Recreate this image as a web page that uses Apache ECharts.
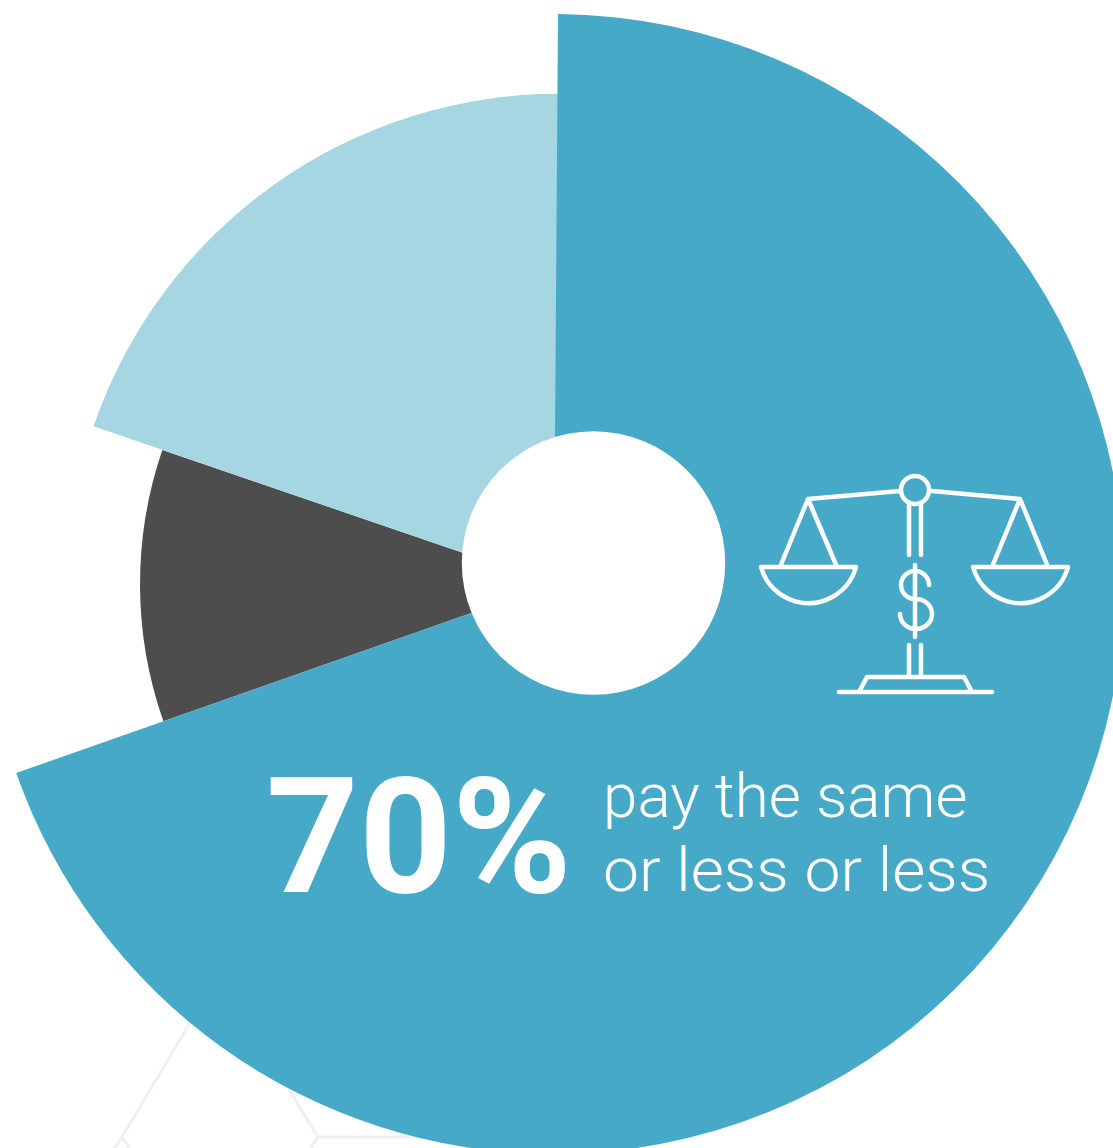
<!DOCTYPE html>
<html>
<head>
<meta charset="utf-8">
<style>
html,body{margin:0;padding:0;background:#fff}
#chart{width:1113px;height:1148px}
</style>
<script src="https://cdn.jsdelivr.net/npm/echarts@6/dist/echarts.min.js"></script>
</head>
<body>
<div id="chart"></div>
<script>
// Share of respondents per group, clockwise from the top
const sliceNames = ['Pay the same or less', 'Pay somewhat more', 'Pay much more'];
const sliceValues = [70, 10.7, 20];
const sliceColors = ['#45a9c7', '#4d4d4d', '#a7d6e3'];
const sliceRadii = [570, 414, 492];
const sliceCenters = [[554, 584], [554, 584], [559, 585.7]];
// Painting order: the large slice stays on top of its neighbours
const sliceLayers = [4, 2, 3];

const headline = '70%';
const captionLines = ['pay the same', 'or less or less'];

const scaleIcon =
  'M900 491L808 499L780 567M808 499L837 567M932 491L1020 499L992 567M1020 499L1048 567' +
  'M761 567H856A49.3 49.3 0 0 1 761 567Z' +
  'M973 567H1068A49.3 49.3 0 0 1 973 567Z' +
  'M909 505V555M921 505V555' +
  'M915 565V637' +
  'M929 585A14 14 0 1 0 915 599A16 15 0 1 1 900 614' +
  'M909 645V677M921 645V677' +
  'M867 677H964L972 692H859Z' +
  'M839 692H992';

const backdropHex =
  'M190 1023L122 1137L113 1150M122 1137L131 1150' +
  'M288 1088L318 1137L309 1150M318 1137H520';

// Outline shapes for the balance icon and the hexagon pattern behind the pie
echarts.graphic.registerShape('scaleIcon', echarts.graphic.extendPath(scaleIcon, {}));
echarts.graphic.registerShape('backdropHex', echarts.graphic.extendPath(backdropHex, {}));

const chart = echarts.init(document.getElementById('chart'));

// One pie per slice: each shares the same angles but has its own outer radius
const series = sliceNames.map((_, own) => ({
  type: 'pie',
  z: sliceLayers[own],
  center: sliceCenters[own],
  radius: [0, sliceRadii[own]],
  startAngle: 89.6,
  silent: true,
  animation: false,
  label: { show: false },
  labelLine: { show: false },
  data: sliceNames.map((name, i) => ({
    name,
    value: sliceValues[i],
    itemStyle: { color: i === own ? sliceColors[i] : 'transparent' }
  }))
}));

chart.setOption({
  animation: false,
  series,
  graphic: [
    {
      type: 'backdropHex', z: 0, silent: true,
      style: { fill: 'none', stroke: '#f0eff5', lineWidth: 3.2 }
    },
    {
      type: 'circle', z: 50, silent: true,
      shape: { cx: 593.5, cy: 563, r: 131.7 },
      style: { fill: '#ffffff' }
    },
    {
      type: 'scaleIcon', z: 60, silent: true,
      style: { fill: 'none', stroke: '#ffffff', lineWidth: 4.5, lineCap: 'round', lineJoin: 'round' }
    },
    {
      type: 'circle', z: 60, silent: true,
      shape: { cx: 915, cy: 490, r: 14 },
      style: { fill: 'none', stroke: '#ffffff', lineWidth: 4.5 }
    },
    {
      type: 'text', z: 60, silent: true, x: 266, y: 770,
      style: {
        text: headline, x: 0, y: 0, fill: '#ffffff',
        font: '700 162px Roboto', verticalAlign: 'top'
      }
    },
    {
      type: 'text', z: 60, silent: true, x: 603, y: 770,
      style: {
        text: captionLines[0], x: 0, y: 0, fill: '#ffffff',
        font: '300 62px Roboto', verticalAlign: 'top'
      }
    },
    {
      type: 'text', z: 60, silent: true, x: 603, y: 844.5, scaleX: 1.035,
      style: {
        text: captionLines[1], x: 0, y: 0, fill: '#ffffff',
        font: '300 62px Roboto', verticalAlign: 'top'
      }
    }
  ]
});
</script>
</body>
</html>
